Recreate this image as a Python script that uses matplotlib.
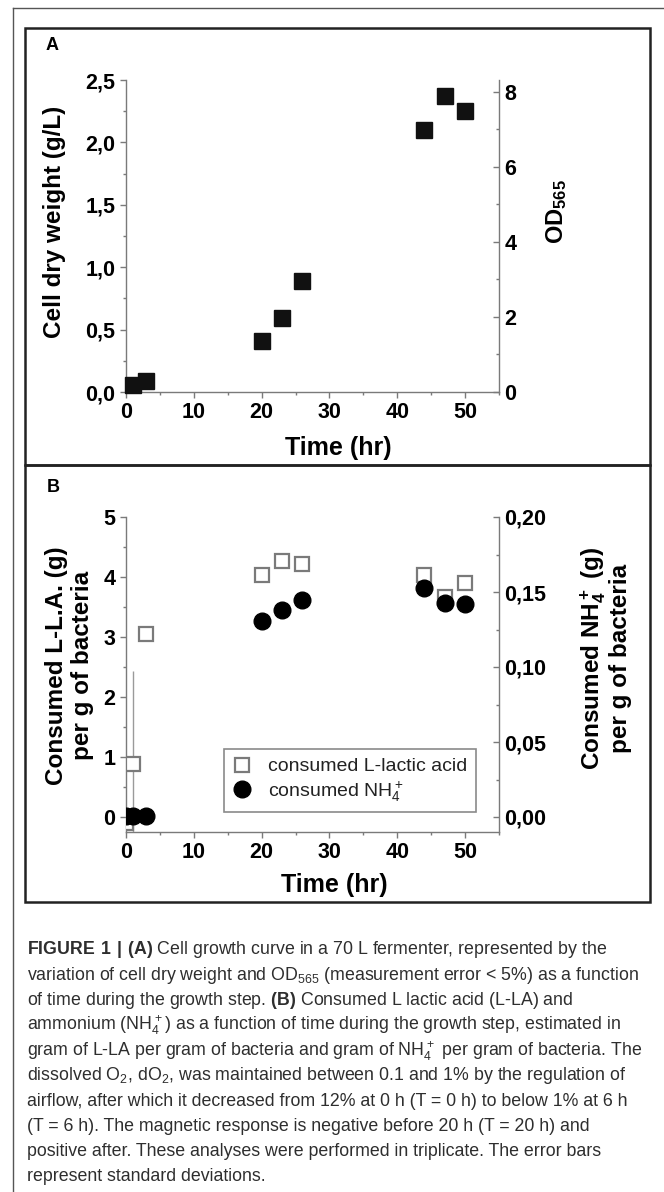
import numpy as np
import matplotlib
matplotlib.use("Agg")
import matplotlib.pyplot as plt
from matplotlib.patches import Rectangle
from matplotlib.lines import Line2D
from matplotlib.ticker import MultipleLocator, FuncFormatter

plt.rcParams['font.family'] = ['Liberation Sans', 'DejaVu Sans']
plt.rcParams['font.weight'] = 'bold'
plt.rcParams['axes.labelweight'] = 'bold'
plt.rcParams['mathtext.fontset'] = 'custom'
plt.rcParams['mathtext.rm'] = 'Liberation Sans'
plt.rcParams['mathtext.bf'] = 'Liberation Sans:bold'
plt.rcParams['mathtext.default'] = 'regular'

# ---- data ----
time_a = [1, 3, 20, 23, 26, 44, 47, 50]
cdw = [0.06, 0.09, 0.41, 0.59, 0.89, 2.10, 2.37, 2.25]

time_b = [0, 1, 3, 20, 23, 26, 44, 47, 50]
lla = [-0.1, 0.88, 3.05, 4.03, 4.26, 4.21, 4.03, 3.66, 3.90]
lla_err = [0, 1.55, 0.12, 0, 0, 0, 0, 0, 0]
nh4 = [0.001, 0.001, 0.001, 0.131, 0.138, 0.145, 0.153, 0.143, 0.142]

x_ticks = [0, 10, 20, 30, 40, 50]
cdw_ticks = [0.0, 0.5, 1.0, 1.5, 2.0, 2.5]
od_ticks = [0, 2, 4, 6, 8]
lla_ticks = [0, 1, 2, 3, 4, 5]
nh4_ticks = [0.00, 0.05, 0.10, 0.15, 0.20]

caption = [
    r"$\mathbf{FIGURE\ 1\ |\ (A)}$ Cell growth curve in a 70 L fermenter, represented by the",
    r"variation of cell dry weight and OD$_{565}$ (measurement error < 5%) as a function",
    r"of time during the growth step. $\mathbf{(B)}$ Consumed L lactic acid (L-LA) and",
    r"ammonium (NH$_4^+$) as a function of time during the growth step, estimated in",
    r"gram of L-LA per gram of bacteria and gram of NH$_4^+$ per gram of bacteria. The",
    r"dissolved O$_2$, dO$_2$, was maintained between 0.1 and 1% by the regulation of",
    r"airflow, after which it decreased from 12% at 0 h (T = 0 h) to below 1% at 6 h",
    r"(T = 6 h). The magnetic response is negative before 20 h (T = 20 h) and",
    r"positive after. These analyses were performed in triplicate. The error bars",
    r"represent standard deviations.",
]

W, H = 664, 1192
SPINE = '#7a7a7a'


def fx(px):
    return px / W


def fy(py):
    return 1 - py / H


def comma(fmt):
    return FuncFormatter(lambda v, pos: (fmt % v).replace('.', ','))


def style_main(ax):
    ax.spines['top'].set_visible(False)
    ax.spines['right'].set_visible(False)
    for s in ['left', 'bottom']:
        ax.spines[s].set_color(SPINE)
        ax.spines[s].set_linewidth(1.0)
    ax.tick_params(which='both', direction='out', color=SPINE, width=1.0,
                   labelsize=15.5, pad=3)
    ax.tick_params(which='major', length=4.5)
    ax.tick_params(which='minor', length=2.5)
    ax.set_xlim(0, 55)
    ax.set_xticks(x_ticks)
    ax.xaxis.set_minor_locator(MultipleLocator(5))


def style_twin(ax2):
    for s in ['top', 'left', 'bottom']:
        ax2.spines[s].set_visible(False)
    ax2.spines['right'].set_color(SPINE)
    ax2.spines['right'].set_linewidth(1.0)
    ax2.tick_params(which='both', direction='in', color=SPINE, width=1.0,
                    labelsize=15.5, pad=4)
    ax2.tick_params(which='major', length=4.5)
    ax2.tick_params(which='minor', length=2.5)


fig = plt.figure(figsize=(W / 100, H / 100), dpi=100)

# frames
fig.add_artist(Line2D([fx(13), fx(13)], [0, fy(8)], color='#555555', lw=1.0))
fig.add_artist(Line2D([fx(13), 1], [fy(8), fy(8)], color='#555555', lw=1.0))
fig.add_artist(Rectangle((fx(25), fy(465)), fx(650) - fx(25), fy(28) - fy(465),
                         fill=False, ec='#222222', lw=1.8))
fig.add_artist(Rectangle((fx(25), fy(902)), fx(650) - fx(25), fy(465) - fy(902),
                         fill=False, ec='#222222', lw=1.8))

# ---- panel A ----
axA = fig.add_axes([fx(126), fy(392), fx(499) - fx(126), fy(80) - fy(392)])
style_main(axA)
axA.set_ylim(0, 2.5)
axA.set_yticks(cdw_ticks)
axA.yaxis.set_minor_locator(MultipleLocator(0.25))
axA.yaxis.set_major_formatter(comma('%.1f'))
axA.plot(time_a, cdw, 's', color='#111111', ms=11, clip_on=False, zorder=5)

axA2 = axA.twinx()
style_twin(axA2)
axA2.set_ylim(0, 2.5 * 3.324)
axA2.set_yticks(od_ticks)
axA2.yaxis.set_minor_locator(MultipleLocator(1))

fig.text(fx(52), fy(45), 'A', fontsize=13, ha='center', va='center')
fig.text(fx(55), fy(222), 'Cell dry weight (g/L)', rotation=90, fontsize=17.5,
         ha='center', va='center')
fig.text(fx(557), fy(212), 'OD$_{565}$', rotation=90, fontsize=17,
         ha='center', va='center')
fig.text(fx(338), fy(448), 'Time (hr)', fontsize=18, ha='center', va='center')

# ---- panel B ----
axB = fig.add_axes([fx(126), fy(832), fx(499) - fx(126), fy(517) - fy(832)])
style_main(axB)
axB.set_ylim(-0.25, 5)
axB.set_yticks(lla_ticks)
axB.yaxis.set_minor_locator(MultipleLocator(0.5))
hl = axB.errorbar(time_b, lla, yerr=lla_err, fmt='s', ms=9.5, mfc='white',
                  mec='#7a7a7a', mew=1.6, ecolor='#9a9a9a', elinewidth=1.0,
                  capsize=0, zorder=3)

axB2 = axB.twinx()
style_twin(axB2)
axB2.set_ylim(-0.01, 0.20)
axB2.set_yticks(nh4_ticks)
axB2.yaxis.set_minor_locator(MultipleLocator(0.025))
axB2.yaxis.set_major_formatter(comma('%.2f'))
hn, = axB2.plot(time_b, nh4, 'o', color='black', ms=12, zorder=4)

leg = axB2.legend([hl[0], hn], ['consumed L-lactic acid', 'consumed NH$_4^+$'],
                  loc='upper left', bbox_to_anchor=(fx(224), fy(749)),
                  bbox_transform=fig.transFigure, borderaxespad=0,
                  prop={'size': 14, 'weight': 'normal'}, fancybox=False,
                  edgecolor='#8a8a8a', framealpha=1, borderpad=0.45,
                  labelspacing=0.2, handlelength=1.0, handletextpad=0.8)
leg.get_frame().set_linewidth(1.2)
for t in leg.get_texts():
    t.set_color('#222222')

fig.text(fx(53), fy(487), 'B', fontsize=13, ha='center', va='center')
fig.text(fx(57), fy(666), 'Consumed L-L.A. (g)', rotation=90, fontsize=17.5,
         ha='center', va='center')
fig.text(fx(83), fy(665), 'per g of bacteria', rotation=90, fontsize=17.5,
         ha='center', va='center')
fig.text(fx(593), fy(658), 'Consumed NH$_4^+$ (g)', rotation=90, fontsize=17.5,
         ha='center', va='center')
fig.text(fx(620), fy(658), 'per g of bacteria', rotation=90, fontsize=17.5,
         ha='center', va='center')
fig.text(fx(334), fy(885), 'Time (hr)', fontsize=18, ha='center', va='center')

# ---- caption ----
for i, line in enumerate(caption):
    fig.text(fx(27), fy(950 + i * 25.2), line, fontsize=12.8, fontweight='normal',
             color='#2e2e2e', ha='left', va='center')

fig.savefig('out.png', dpi=100)
